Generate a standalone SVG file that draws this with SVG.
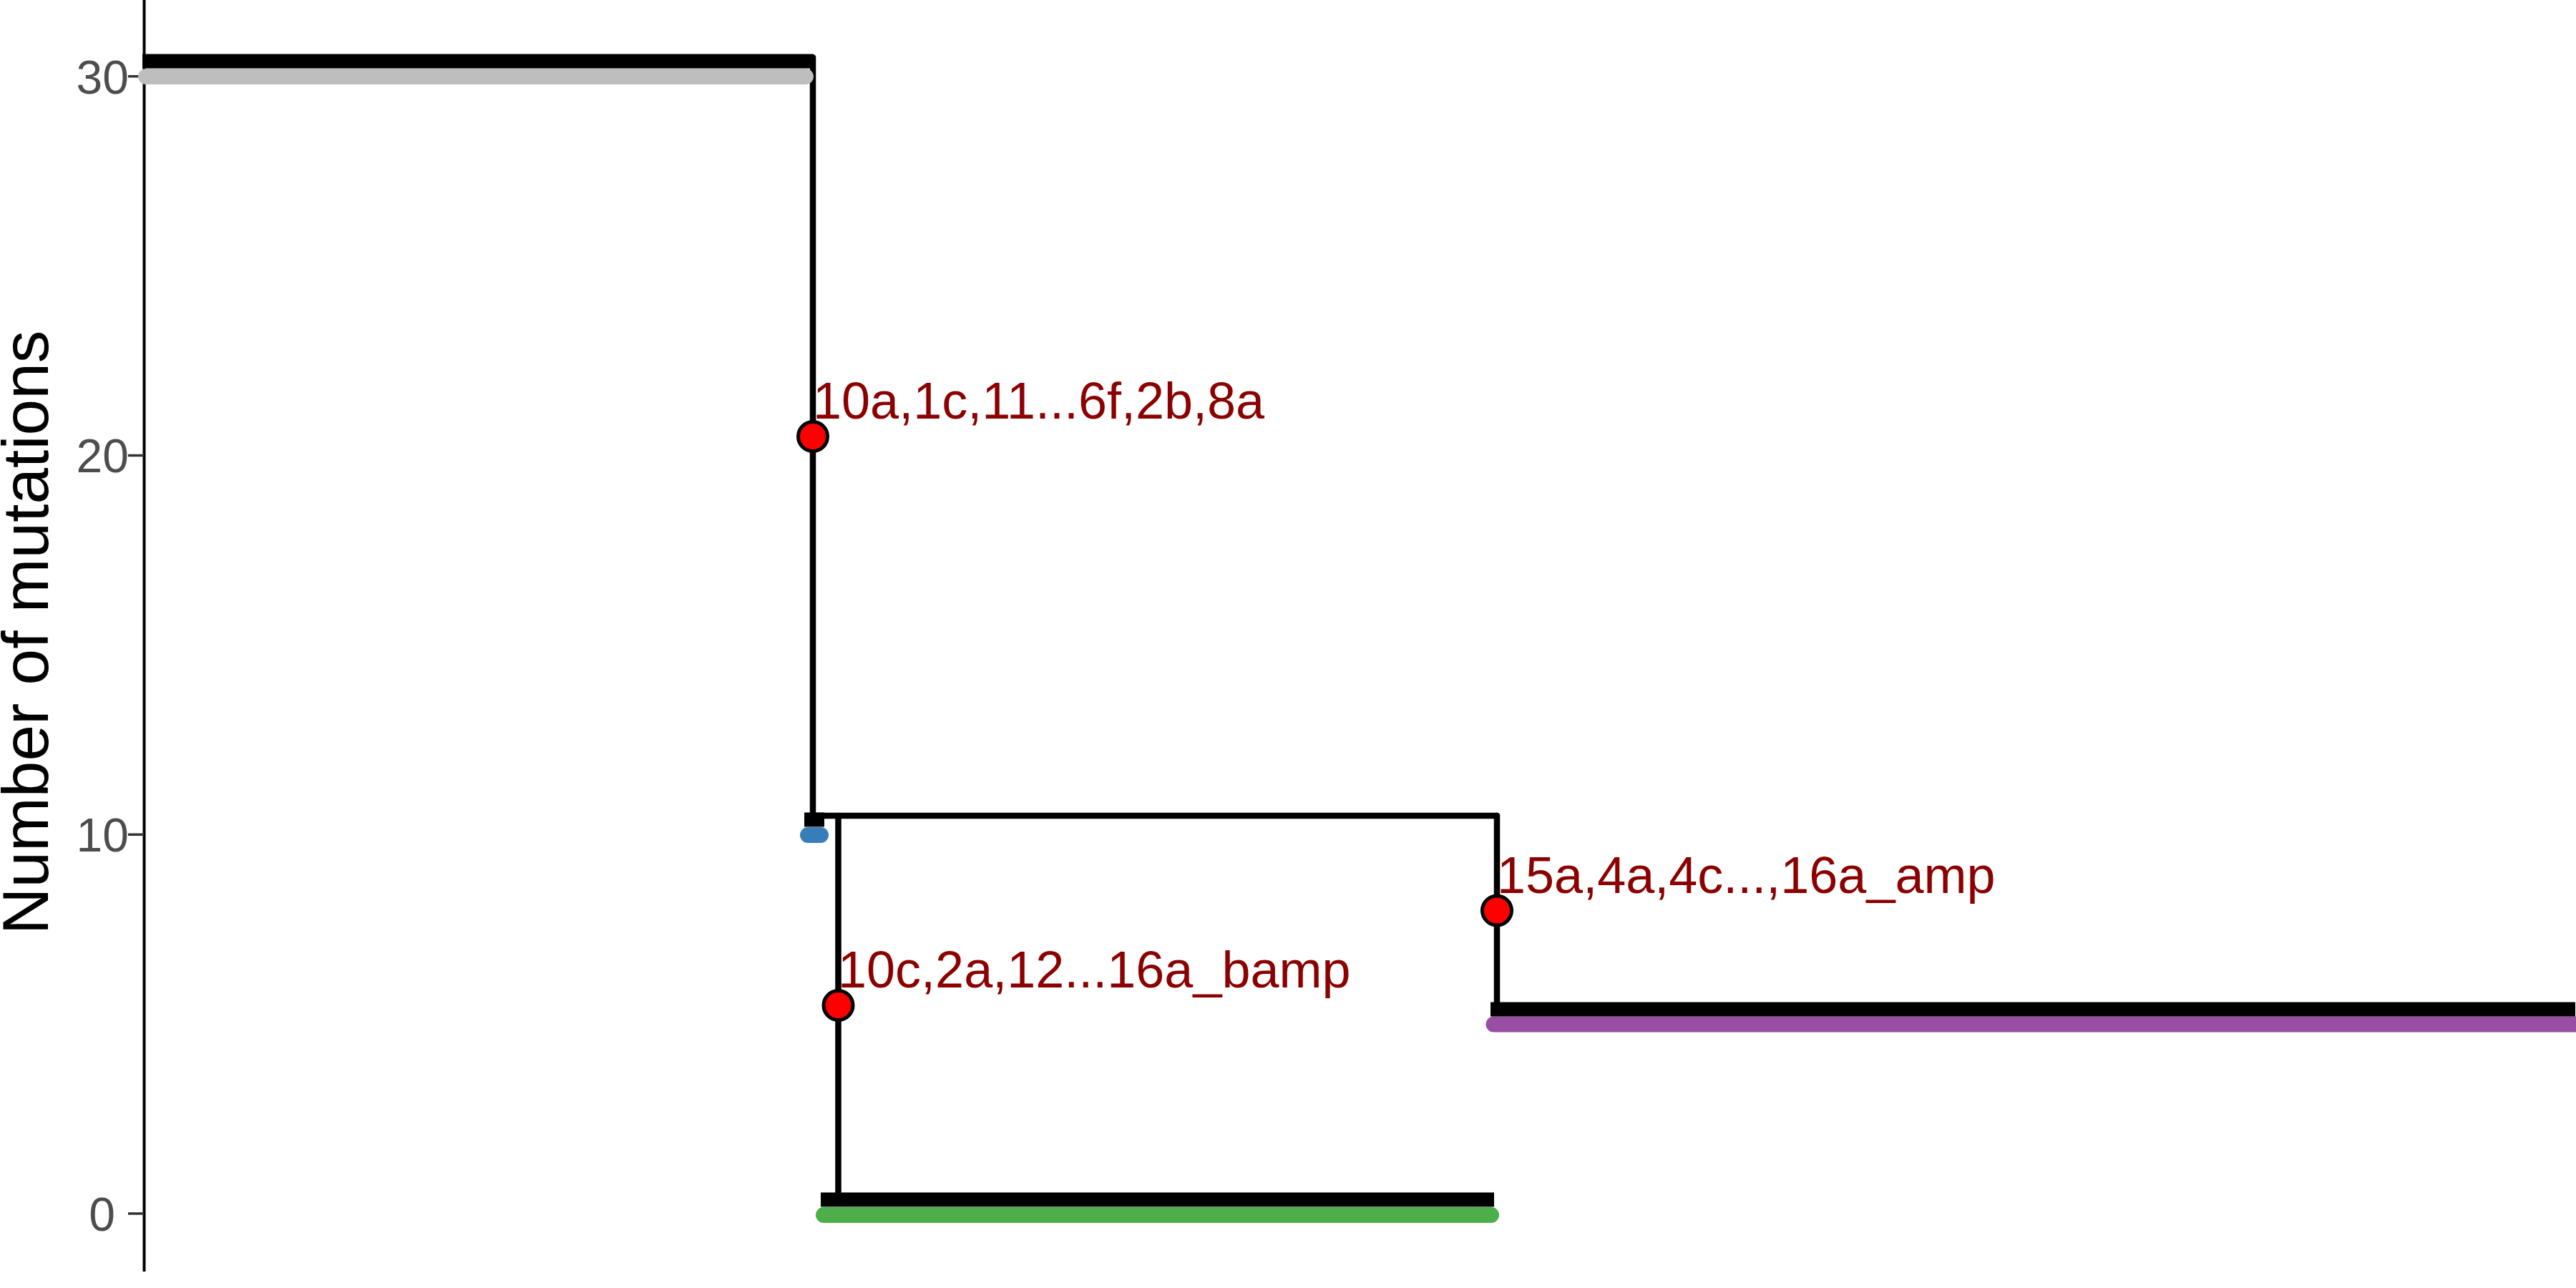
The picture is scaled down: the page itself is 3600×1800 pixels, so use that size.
<svg xmlns="http://www.w3.org/2000/svg" width="3600" height="1800" viewBox="0 0 3600 1800">
<style>
.tick{font-family:"Liberation Sans",Arial,sans-serif;font-size:66px;fill:#4D4D4D;text-anchor:end}
.title{font-family:"Liberation Sans",Arial,sans-serif;font-size:91px;fill:#000000;text-anchor:middle}
.lab{font-family:"Liberation Sans",Arial,sans-serif;font-size:72px;fill:#8B0000}
.branch{stroke:#000000;stroke-width:8.5;fill:none;stroke-linecap:round;stroke-linejoin:round}
.bar{stroke:#000000;stroke-width:20;fill:none;stroke-linecap:butt}
.leaf{stroke-width:22;fill:none;stroke-linecap:round}
.dot{fill:#FF0000;stroke:#000000;stroke-width:5}
</style>
<rect width="3600" height="1800" fill="#FFFFFF"/>
<g id="axis">
<line x1="201.5" y1="0" x2="201.5" y2="1777" stroke="#000000" stroke-width="4"/>
<g stroke="#333333" stroke-width="3.5">
<line x1="179" y1="106.7" x2="201" y2="106.7"/>
<line x1="179" y1="636.5" x2="201" y2="636.5"/>
<line x1="179" y1="1166.3" x2="201" y2="1166.3"/>
<line x1="179" y1="1696" x2="201" y2="1696"/>
</g>
<text class="tick" x="180" y="130.5">30</text>
<text class="tick" x="180" y="660">20</text>
<text class="tick" x="180" y="1190">10</text>
<text class="tick" x="161" y="1719.5">0</text>
<text class="title" transform="translate(67,884) rotate(-90)">Number of mutations</text>
</g>
<g id="connectors">
<line class="branch" x1="1136" y1="80" x2="1136" y2="1140"/>
<line class="branch" x1="1132" y1="1140" x2="2092" y2="1140"/>
<line class="branch" x1="1171.5" y1="1140" x2="1171.5" y2="1670"/>
<line class="branch" x1="2092" y1="1140" x2="2092" y2="1404"/>
</g>
<g id="leaf-grey">
<line class="leaf" stroke="#BEBEBE" x1="204" y1="107" x2="1126" y2="107"/>
<line class="bar" x1="199" y1="85.5" x2="1136" y2="85.5"/>
</g>
<g id="leaf-blue">
<line class="leaf" stroke="#377EB8" x1="1129" y1="1167" x2="1147" y2="1167"/>
<line class="bar" x1="1124" y1="1145.5" x2="1152" y2="1145.5"/>
</g>
<g id="leaf-green">
<line class="leaf" stroke="#4DAF4A" x1="1151" y1="1698" x2="2084" y2="1698"/>
<line class="bar" x1="1147" y1="1676.5" x2="2088" y2="1676.5"/>
</g>
<g id="leaf-purple">
<line class="leaf" stroke="#984EA3" x1="2087.5" y1="1431.5" x2="3600" y2="1431.5"/>
<line class="bar" x1="2083" y1="1410.5" x2="3599" y2="1410.5"/>
</g>
<g id="node-1">
<circle class="dot" cx="1136" cy="610" r="20.5"/>
<text class="lab" x="1136" y="585">10a,1c,11...6f,2b,8a</text>
</g>
<g id="node-2">
<circle class="dot" cx="1171.5" cy="1405" r="20.5"/>
<text class="lab" x="1171" y="1380">10c,2a,12...16a_bamp</text>
</g>
<g id="node-3">
<circle class="dot" cx="2092" cy="1272.5" r="20.5"/>
<text class="lab" x="2092" y="1248">15a,4a,4c...,16a_amp</text>
</g>
</svg>
